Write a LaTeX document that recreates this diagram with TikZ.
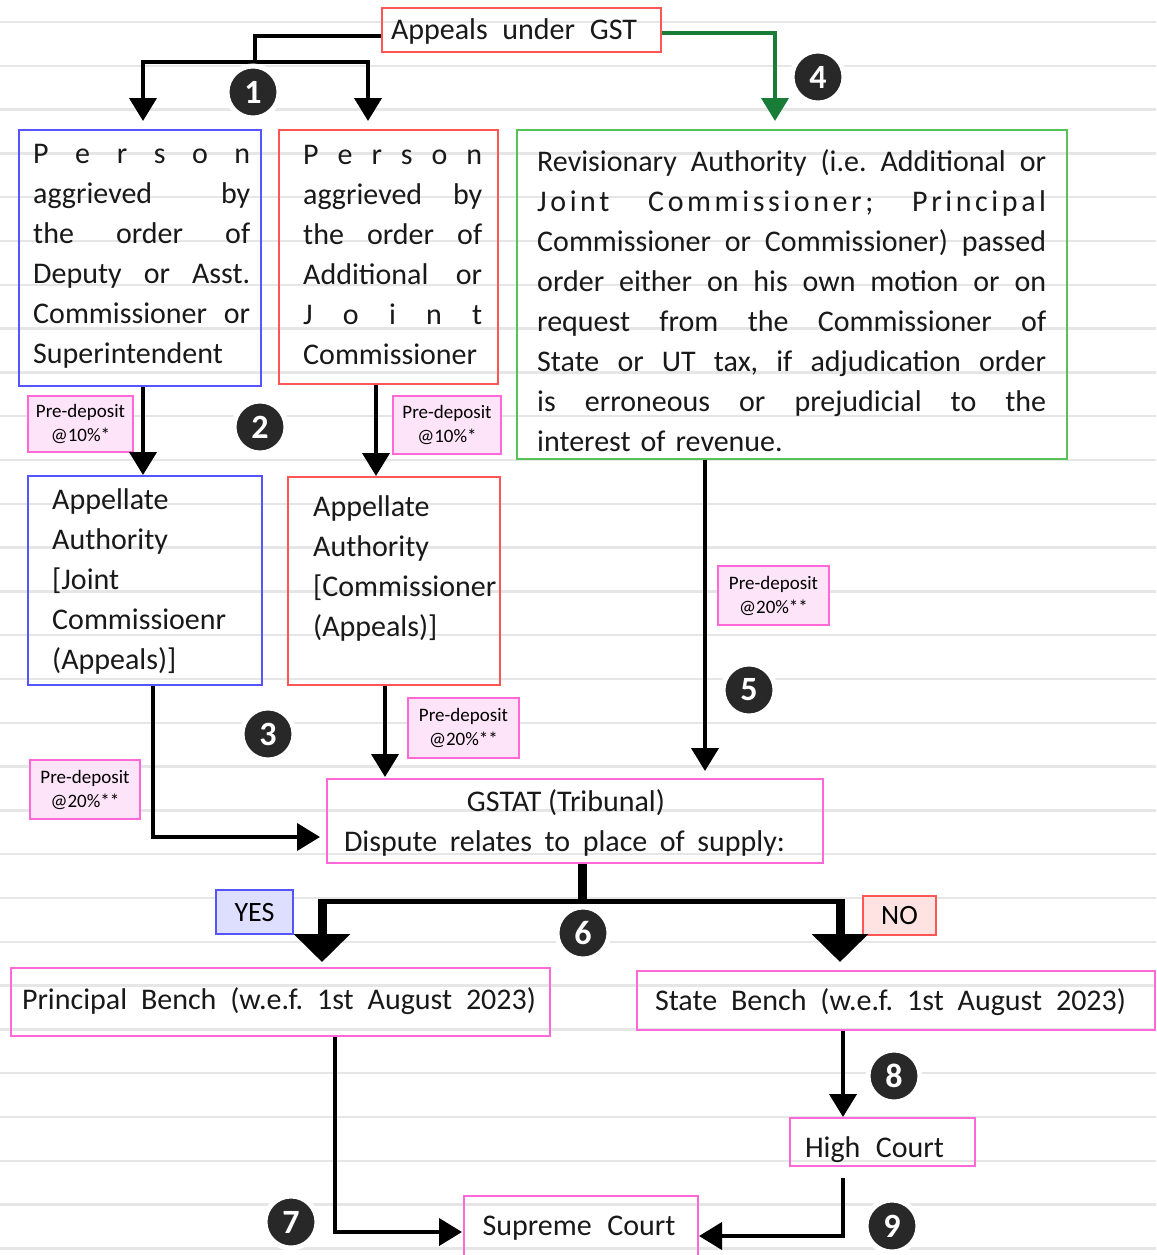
\documentclass[tikz,border=0pt]{standalone}
\usepackage{fontspec}
\setmainfont{Carlito}
\usetikzlibrary{arrows.meta}
\definecolor{cred}{RGB}{255,85,85}
\definecolor{cblue}{RGB}{85,85,255}
\definecolor{cgreen}{RGB}{85,195,85}
\definecolor{cpink}{RGB}{255,105,215}
\definecolor{pdfill}{RGB}{253,228,248}
\definecolor{yesfill}{RGB}{222,222,255}
\definecolor{nofill}{RGB}{255,226,226}
\definecolor{darrow}{RGB}{25,125,55}
\definecolor{ndark}{RGB}{40,40,40}
\definecolor{rulegray}{RGB}{230,230,230}
\newcommand\wl[2]{\makebox[#1][s]{\spaceskip=0pt\xspaceskip=0pt #2}}
\newcommand\ja[1]{\wl{217pt}{#1}}
\newcommand\jb[1]{\wl{179pt}{#1}}
\newcommand\jc[1]{\wl{509pt}{#1}}
\frenchspacing
\begin{document}
\begin{tikzpicture}[x=1pt,y=-1pt,
  box/.style={draw, line width=2pt, inner sep=0pt},
  txt/.style={inner sep=0pt, font=\fontsize{30}{40}\selectfont, text=black!90},
  mtxt/.style={txt, align=left, anchor=base west},
  stxt/.style={txt, anchor=base},
  pd/.style={draw=cpink, fill=pdfill, line width=1.6pt, inner sep=0pt, align=center, font=\fontsize{19}{24}\selectfont},
  num/.style={circle, fill=ndark, draw=white, line width=5pt, minimum size=52pt, inner sep=0pt, text=white, font=\bfseries\fontsize{34}{34}\selectfont},
  conn/.style={line width=4pt, -{Triangle[width=27pt,length=23pt]}},
  plainline/.style={line width=4pt},
  bigarr/.style={line width=9pt, -{Triangle[width=55pt,length=28pt]}},
]
\useasboundingbox (0,0) rectangle (1156,1255);
\fill[white] (0,0) rectangle (1156,1255);
\foreach \k in {0,...,28}{\draw[rulegray, line width=2.5pt] (0,{22+43.8*\k}) -- (1156,{22+43.8*\k});}

% boxes
\node[box, draw=cred, minimum width=279pt, minimum height=44pt] (title) at (521.5,30) {};
\node[box, draw=cblue, minimum width=242pt, minimum height=256pt] (a1) at (140,258) {};
\node[box, draw=cred, minimum width=219pt, minimum height=254pt] (b1) at (388.5,257) {};
\node[box, draw=cgreen, minimum width=550pt, minimum height=329pt] (c1) at (792,294.5) {};
\node[box, draw=cblue, minimum width=234pt, minimum height=209pt] (a2) at (145,580.5) {};
\node[box, draw=cred, minimum width=212pt, minimum height=208pt] (b2) at (394,581) {};
\node[box, draw=cpink, minimum width=496pt, minimum height=84pt] (gst) at (575,821) {};
\node[box, draw=cpink, minimum width=539pt, minimum height=68pt] (pb) at (280.5,1002) {};
\node[box, draw=cpink, minimum width=518pt, minimum height=59pt] (sb) at (896,1000.5) {};
\node[box, draw=cpink, minimum width=185pt, minimum height=48pt] (hc) at (882.5,1142) {};
\node[box, draw=cpink, minimum width=234pt, minimum height=60pt] (sc) at (581,1226) {};

% texts
\node[stxt] (titlet) at (514,40) {\wl{246pt}{Appeals under GST}};
\node[mtxt, text width=217pt] (a1t) at (33,163) {\ja{P e r s o n}\\\ja{aggrieved by}\\\ja{the order of}\\\ja{Deputy or Asst.}\\\ja{Commissioner or}\\Superintendent};
\node[mtxt, text width=179pt] (b1t) at (303,164) {\jb{P e r s o n}\\\jb{aggrieved by}\\\jb{the order of}\\\jb{Additional or}\\\jb{J o i n t}\\Commissioner};
\node[mtxt, text width=509pt] (c1t) at (537,171) {\jc{Revisionary Authority (i.e. Additional or}\\\jc{\addfontfeatures{LetterSpace=12}Joint Commissioner; Principal}\\\jc{Commissioner or Commissioner) passed}\\\jc{order either on his own motion or on}\\\jc{request from the Commissioner of}\\\jc{State or UT tax, if adjudication order}\\\jc{is erroneous or prejudicial to the}\\interest of revenue.};
\node[mtxt, text width=186pt] (a2t) at (52,509) {Appellate\\Authority\\{[}Joint\\Commissioenr\\(Appeals)]};
\node[mtxt, text width=190pt] (b2t) at (313,516) {Appellate\\Authority\\{[}Commissioner\\(Appeals)]};
\node[stxt] (gstt1) at (566,811) {GSTAT (Tribunal)};
\node[stxt] (gstt2) at (564.5,851) {\wl{441pt}{Dispute relates to place of supply:}};
\node[stxt] (pbt) at (279,1009) {\wl{514pt}{Principal Bench (w.e.f. 1st August 2023)}};
\node[stxt] (sbt) at (890.5,1010) {\wl{471pt}{State Bench (w.e.f. 1st August 2023)}};
\node[stxt] (hct) at (874.5,1157) {\wl{139pt}{High Court}};
\node[stxt] (sct) at (579,1235) {\wl{193pt}{Supreme Court}};

% pre-deposit tags
\node[pd, minimum width=105pt, minimum height=56pt] (p1) at (80.5,424) {Pre-deposit\\@10\%*};
\node[pd, minimum width=108pt, minimum height=58pt] (p2) at (447,425) {Pre-deposit\\@10\%*};
\node[pd, minimum width=111pt, minimum height=59pt] (p3) at (773.5,595.5) {Pre-deposit\\@20\%**};
\node[pd, minimum width=111pt, minimum height=60pt] (p4) at (463.5,728) {Pre-deposit\\@20\%**};
\node[pd, minimum width=110pt, minimum height=59pt] (p5) at (85,789.5) {Pre-deposit\\@20\%**};

% yes / no
\node[draw=cblue, fill=yesfill, line width=1.6pt, minimum width=77pt, minimum height=44pt, inner sep=0pt, font=\fontsize{28}{28}\selectfont] (yes) at (254.5,912) {YES};
\node[draw=cred, fill=nofill, line width=1.6pt, minimum width=73pt, minimum height=39pt, inner sep=0pt, font=\fontsize{28}{28}\selectfont] (no) at (899.5,915.5) {NO};

% connectors
\coordinate (j1) at (255,62);
\draw[plainline] ([yshift=-6pt]title.west) -| (j1);
\draw[conn, shorten >=8pt] (j1) -| ([xshift=3pt]a1.north);
\draw[conn, shorten >=8pt] (j1) -| ([xshift=-20.5pt]b1.north);
\draw[conn, darrow, shorten >=8pt] ([yshift=-3pt]title.east) -| ([xshift=-17pt]c1.north);

\draw[conn] ([xshift=3pt]a1.south) -- ([xshift=3pt]a1.south |- a2.north);
\draw[conn] ([xshift=-12.5pt]b1.south) -- ([xshift=-12.5pt]b1.south |- b2.north);

\draw[conn, shorten >=6pt] ([xshift=8pt]a2.south) |- ([yshift=-16pt]gst.west);
\draw[conn, shorten >=1pt] ([xshift=-9pt]b2.south) -- ([xshift=-9pt]b2.south |- gst.north);
\draw[conn, shorten >=7pt] ([xshift=-87pt]c1.south) -- ([xshift=-87pt]c1.south |- gst.north);

\coordinate (j6) at (582,903);
\coordinate (yl) at (322,901);
\coordinate (nl) at (840,901);
\draw[line width=9pt] ([xshift=7pt]gst.south) -- (j6);
\draw[line width=5pt] (yl) -- (nl);
\draw[bigarr, shorten >=5pt] ([yshift=2.5pt]yl) -- (yl |- pb.north);
\draw[bigarr, shorten >=8pt] ([yshift=2.5pt]nl) -- (nl |- sb.north);

\draw[conn] ([xshift=-53pt]sb.south) -- ([xshift=-53pt]sb.south |- hc.north);
\draw[conn] ([xshift=-39.5pt,yshift=-11pt]hc.south) |- ([yshift=-10pt]sc.east);
\draw[conn, shorten >=1pt] ([xshift=54.5pt]pb.south) |- ([yshift=-6pt]sc.west);

% numbers
\node[num] (n1) at (253,92) {1};
\node[num] (n2) at (260,427) {2};
\node[num] (n3) at (268,734) {3};
\node[num] (n4) at (818,77) {4};
\node[num] (n5) at (749,690) {5};
\node[num] (n6) at (583,933) {6};
\node[num] (n7) at (291,1222) {7};
\node[num] (n8) at (894,1076) {8};
\node[num] (n9) at (892,1226) {9};
\end{tikzpicture}
\end{document}
